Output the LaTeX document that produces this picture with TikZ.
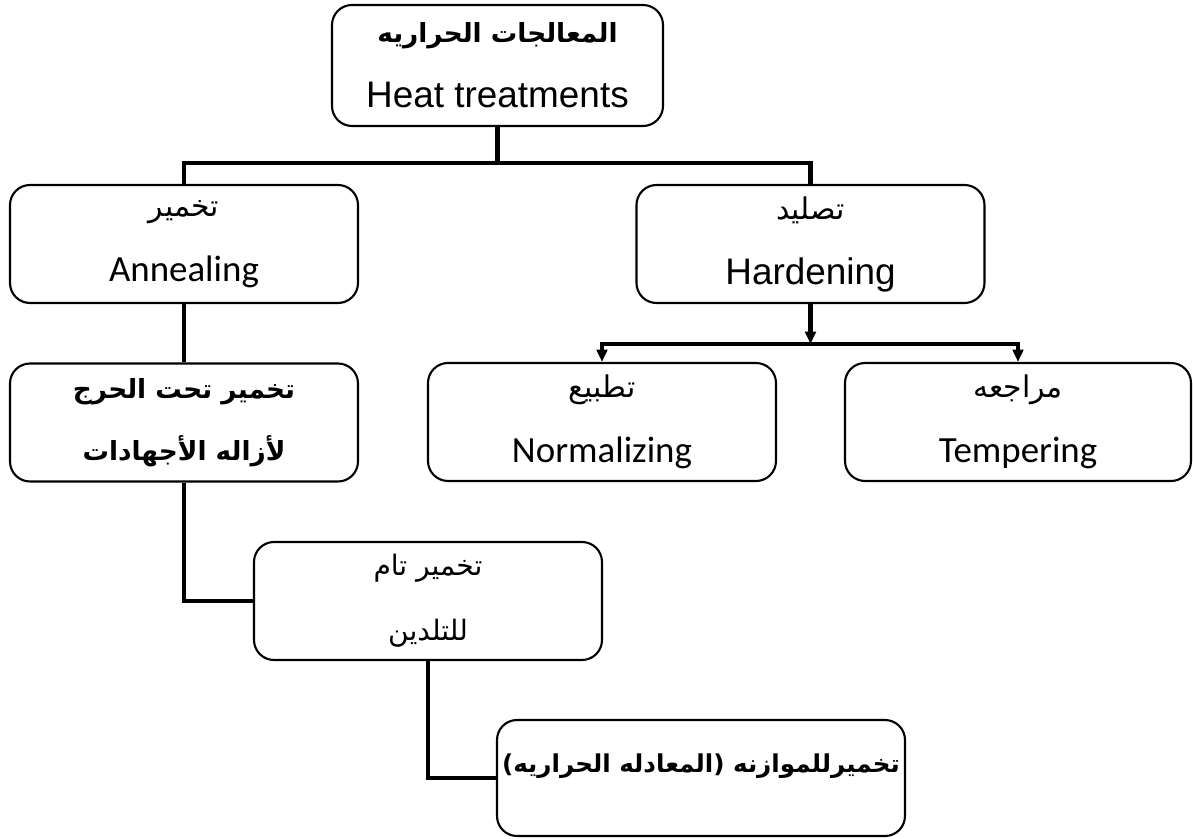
\documentclass[tikz,border=0pt]{standalone}
\usepackage{fontspec}
\setmainfont{Liberation Sans}
\newfontfamily\arabicfont[Script=Arabic]{DejaVu Sans}
\newfontfamily\calfont{Carlito}
\TeXXeTstate=1
\usetikzlibrary{arrows.meta}

\newcommand{\artext}[2][17]{{\arabicfont\fontsize{#1}{18}\selectfont\beginR #2\endR}}
\newcommand{\artextb}[2][15]{{\arabicfont\bfseries\fontsize{#1}{18}\selectfont\beginR #2\endR}}

\begin{document}
\begin{tikzpicture}[
    box/.style={draw, line width=1.2pt, rounded corners=0.4cm,
      minimum width=6.96cm, minimum height=2.36cm, align=center,
      font=\fontsize{21}{37}\selectfont},
    conn/.style={line width=2.6pt},
    tip/.style={-{Triangle[length=7pt,width=6pt]}}
  ]
  \useasboundingbox (0,0) rectangle (23.86,-16.78);

  % Kaesten
  \node[box, minimum width=6.62cm, minimum height=2.42cm] (heat) at (9.95,-1.31)
    {\artextb{المعالجات الحراريه}\\Heat treatments};
  \node[box] (anneal) at (3.68,-4.88) {\artext{تخمير}\\{\calfont Annealing}};
  \node[box] (harden) at (16.21,-4.88) {\artext{تصليد}\\Hardening};
  \node[box, font=\fontsize{21}{35}\selectfont] (subcrit) at (3.68,-8.45)
    {\artextb{تخمير تحت الحرج}\\\artextb{لأزاله الأجهادات}};
  \node[box] (normal) at (12.04,-8.44) {\artext{تطبيع}\\{\calfont Normalizing}};
  \node[box, minimum width=6.92cm] (temper) at (20.36,-8.44)
    {\artext{مراجعه}\\{\calfont Tempering}};
  \node[box] (full) at (8.56,-12.02) {\artext[16]{تخمير تام}\\\artext[16]{للتلدين}};
  \node[box, minimum width=8.16cm, minimum height=2.32cm, inner xsep=1pt,
    text depth=0.6cm] (equal) at (14.02,-15.56)
    {\artextb[14]{تخميرللموازنه (المعادله الحراريه)}};

  % Verbindungen
  \coordinate (split1) at (9.95,-3.26);
  \coordinate (split2) at (16.21,-6.88);

  \draw[conn] (heat.south) -- (split1);
  \draw[conn] (anneal.north) |- (split1) -| (harden.north);

  \draw[conn, tip] (harden.south) -- (split2);
  \draw[conn, tip] (split2) -| (normal.north);
  \draw[conn, tip] (split2) -| (temper.north);

  \draw[conn] (anneal.south) -- (subcrit.north);
  \draw[conn] (subcrit.south) |- (full.west);
  \draw[conn] (full.south) |- (equal.west);

\end{tikzpicture}
\end{document}
